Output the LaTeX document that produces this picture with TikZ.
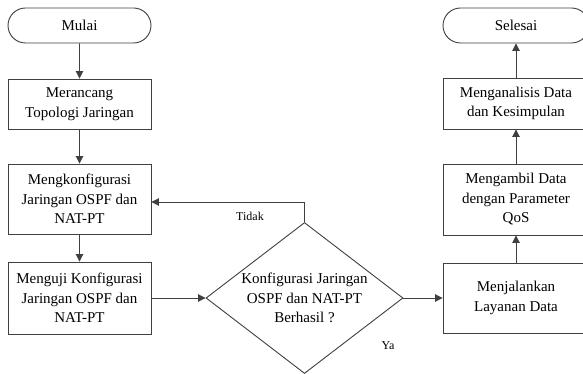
\documentclass[tikz,border=0pt]{standalone}
\usepackage{fontspec}
\setmainfont{Liberation Serif}
\usetikzlibrary{shapes.geometric,shapes.misc,arrows.meta}
\begin{document}
\begin{tikzpicture}[x=1pt,y=-1pt,
  line/.style={draw=black!75,line width=0.9pt},
  arr/.style={line,-{Triangle[length=7.5pt,width=7.5pt]}},
  txt/.style={font=\fontsize{15}{19.5}\selectfont,align=center,text=black},
  proc/.style={rectangle,line,txt,minimum width=143pt,inner sep=0pt},
  term/.style={rounded rectangle,line,txt,minimum width=143pt,minimum height=35pt,inner sep=0pt},
  lab/.style={font=\fontsize{12}{14}\selectfont,text=black}]
\useasboundingbox (0,0) rectangle (583,374);
\fill[white] (0,0) rectangle (583,374);
\node[term] (mulai) at (79.5,25.5) {Mulai};
\node[proc,minimum height=50pt] (rancang) at (79.5,104) {Merancang\\Topologi Jaringan};
\node[proc,minimum height=70pt] (konfig) at (79.5,199) {Mengkonfigurasi\\Jaringan OSPF dan\\NAT-PT};
\node[proc,minimum height=72pt] (uji) at (79.5,298) {Menguji Konfigurasi\\Jaringan OSPF dan\\NAT-PT};
\node[diamond,line,minimum width=197pt,minimum height=151pt,inner sep=0pt,
  label={[txt]center:Konfigurasi Jaringan\\OSPF dan NAT-PT\\Berhasil ?}] (dec) at (304.5,298) {};
\node[proc,minimum width=146pt,minimum height=70pt] (jalan) at (516,298) {Menjalankan\\Layanan Data};
\node[proc,minimum width=146pt,minimum height=71pt] (ambil) at (516,199.5) {Mengambil Data\\dengan Parameter\\QoS};
\node[proc,minimum width=146pt,minimum height=51pt] (analisis) at (516,103.5) {Menganalisis Data\\dan Kesimpulan};
\node[term,minimum width=146pt] (selesai) at (516,25.5) {Selesai};
\coordinate (tb) at (304.5,202);
\draw[arr] (mulai) -- (rancang);
\draw[arr] (rancang) -- (konfig);
\draw[arr] (konfig) -- (uji);
\draw[arr] (uji.east) -- (dec.west);
\draw[arr] (dec.east) -- (jalan.west);
\draw[arr] (jalan) -- (ambil);
\draw[arr] (ambil) -- (analisis);
\draw[arr] (analisis) -- (selesai);
\draw[arr] (dec.north) -- (tb) -- (konfig.east |- tb);
\node[lab] (tidak) at (250,216) {Tidak};
\node[lab] (ya) at (388,346) {Ya};
\end{tikzpicture}
\end{document}
